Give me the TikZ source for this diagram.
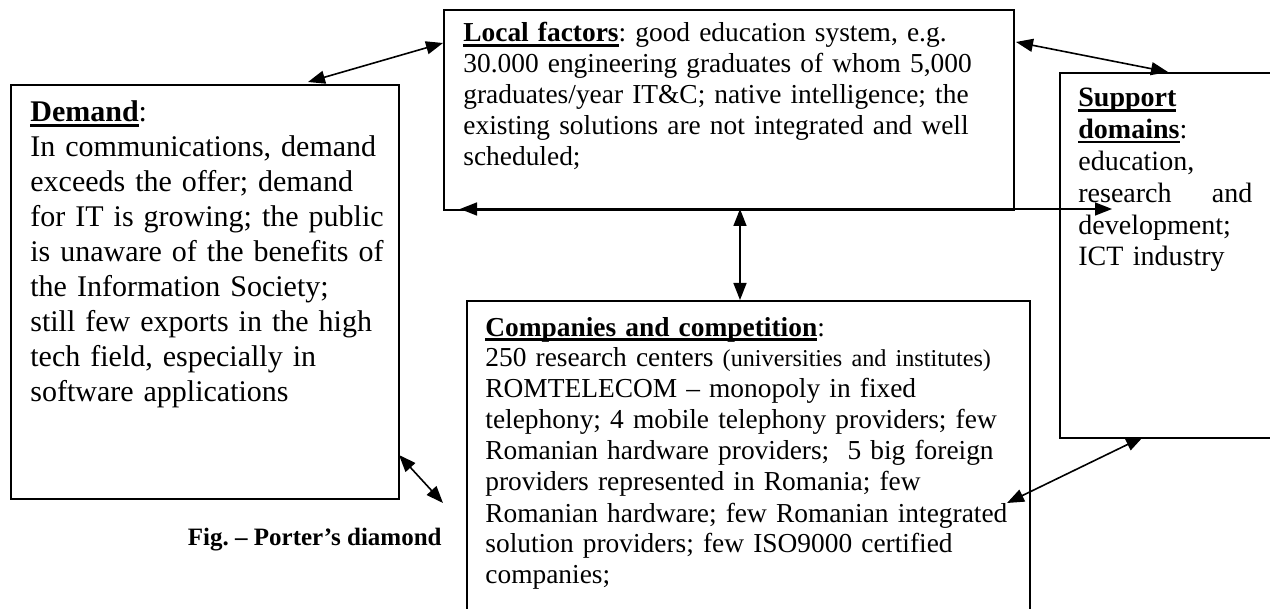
\documentclass[tikz,border=0pt]{standalone}
\usepackage{fontspec}
\setmainfont{Liberation Serif}
\usetikzlibrary{arrows.meta}

% bold heading with a heavy underline
\newcommand{\boxtitle}[1]{\leavevmode\setbox0\hbox{\bfseries #1}\rlap{\rule[-2.3pt]{\wd0}{1.1pt}}\box0}

\begin{document}
\frenchspacing
\begin{tikzpicture}[
  x=0.5pt, y=-0.5pt,
  frame/.style={draw=black,line width=0.9pt,inner sep=0pt,anchor=north west},
  body/.style={inner sep=0pt,anchor=base west,align=left,font=\fontsize{13.7}{15.5}\selectfont},
  bigbody/.style={body,font=\fontsize{15}{17.5}\selectfont},
  link/.style={line width=0.8pt,{Triangle[length=8.5pt,width=6.5pt]}-{Triangle[length=8.5pt,width=6.5pt]}},
  caption/.style={inner sep=0pt,anchor=base east,font=\fontsize{12.5}{14}\selectfont\bfseries},
]
\clip (0,0) rectangle (1270,609);
\fill[white] (0,0) rectangle (1270,609);

% boxes
\node[frame,minimum width=194pt,minimum height=207pt] (demand) at (10,84) {};
\node[frame,minimum width=285pt,minimum height=100pt] (local) at (443,9) {};
\node[frame,minimum width=121pt,minimum height=182.5pt] (support) at (1059,72) {};
\node[frame,minimum width=281.5pt,minimum height=175pt] (companies) at (466,300) {};

% texts
\node[bigbody,text width=184pt] (demandtxt) at (30,122) {\boxtitle{Demand}:\\
In communications, demand\\
exceeds the offer; demand\\
for IT is growing; the public\\
is unaware of the benefits of\\
the Information Society;\\
still few exports in the high\\
tech field, especially in\\
software applications};

\node[body,text width=272pt] (localtxt) at (463,42) {\boxtitle{Local factors}: good education system, e.g.\\
30.000 engineering graduates of whom 5,000\\
graduates/year IT\&C; native intelligence; the\\
existing solutions are not integrated and well\\
scheduled;};

\node[body,text width=87pt,font=\fontsize{14}{15.9}\selectfont] (supporttxt) at (1078,107) {\boxtitle{Support}\\
\boxtitle{domains}:\\
education,\\
research\hfill and\\
development;\\
ICT industry};

\node[body,text width=272pt] (companiestxt) at (485,336) {\boxtitle{Companies and competition}:\\
250 research centers {\fontsize{12.1}{15.5}\selectfont(universities and institutes)}\\
ROMTELECOM – monopoly in fixed\\
telephony; 4 mobile telephony providers; few\\
Romanian hardware providers;\ \ 5 big foreign\\
providers represented in Romania; few\\
Romanian hardware; few Romanian integrated\\
solution providers; few ISO9000 certified\\
companies;};

\node[caption] (fig) at (442,545) {Fig. – Porter’s diamond};

% arrow ends
\coordinate (d1) at (308,82);
\coordinate (l1) at (443,43);
\coordinate (l2) at (1016,42);
\coordinate (s1) at (1168,72);
\coordinate (l3) at (460,209);
\coordinate (s2) at (1112,209);
\coordinate (l4) at (740,209);
\coordinate (c1) at (740,300);
\coordinate (d2) at (399,455);
\coordinate (c2) at (443,503);
\coordinate (c3) at (1007,503);
\coordinate (s3) at (1143,437);

\draw[link] (d1) -- (l1);
\draw[link] (l2) -- (s1);
\draw[link] (l3) -- (s2);
\draw[link] (l4) -- (c1);
\draw[link] (d2) -- (c2);
\draw[link] (c3) -- (s3);
\end{tikzpicture}
\end{document}
